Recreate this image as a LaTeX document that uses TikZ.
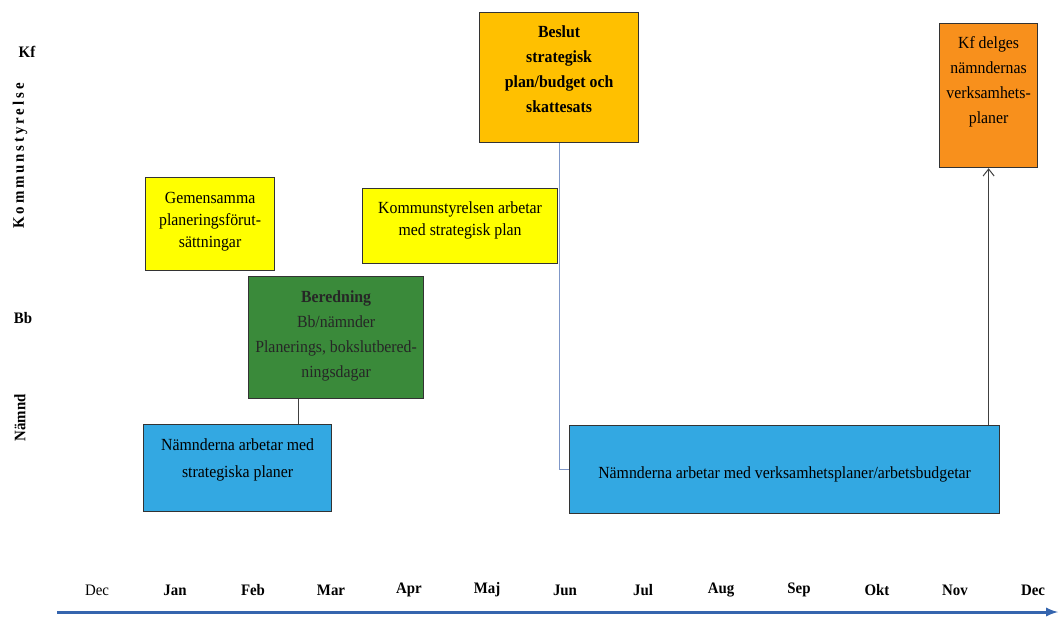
\documentclass[tikz,border=0pt]{standalone}
\usepackage{fontspec}
\setmainfont{Liberation Serif}[FakeStretch=0.93]
\usetikzlibrary{calc}
\usetikzlibrary{arrows.meta}
\tikzset{>=latex}
\definecolor{stryellow}{HTML}{FFFF00}
\definecolor{decisiongold}{HTML}{FFC000}
\definecolor{prepgreen}{HTML}{3A8A3A}
\definecolor{boardblue}{HTML}{33A8E2}
\definecolor{councilorange}{HTML}{F8901C}
\definecolor{axisblue}{HTML}{3565AE}
\definecolor{planline}{HTML}{7F97C8}
\tikzset{
  box/.style={draw=black!80, line width=1.2pt, anchor=north west, align=center,
    inner sep=0pt, font=\fontsize{17}{25}\selectfont},
  side/.style={font=\fontsize{16}{18}\selectfont\bfseries},
  month/.style={font=\fontsize{16}{18}\selectfont\bfseries},
  link/.style={black!75, line width=1pt},
}

\begin{document}
\begin{tikzpicture}[x=1pt, y=-1pt]
  \useasboundingbox (0,0) rectangle (1059,618);
  % row labels
  \node[side] (kf) at (27,52) {Kf};
  \node[side, rotate=90] (ks) at (20,156) {\addfontfeatures{LetterSpace=18}Kommunstyrelse};
  \node[side] (bb) at (23,318) {Bb};
  \node[side, rotate=90] (nd) at (20,418) {Nämnd};
  % boxes
  \node[box, fill=stryellow, minimum width=129pt, text height=70pt, text depth=23pt, font=\fontsize{17}{22}\selectfont] (common) at (145,177)
    {Gemensamma\\planeringsförut-\\sättningar};
  \node[box, fill=prepgreen, text=black!85, minimum width=175pt, text height=101pt, text depth=21pt] (prep) at (248,276)
    {\textbf{Beredning}\\Bb/nämnder\\Planerings, bokslutbered-\\ningsdagar};
  \node[box, fill=boardblue, minimum width=188pt, text height=53pt, text depth=34pt, font=\fontsize{17}{27}\selectfont] (nstrat) at (143,424)
    {Nämnderna arbetar med\\strategiska planer};
  \node[box, fill=stryellow, minimum width=195pt, text height=47pt, text depth=28pt, font=\fontsize{17}{22}\selectfont] (ksplan) at (362,188)
    {Kommunstyrelsen arbetar\\med strategisk plan};
  \node[box, fill=decisiongold, minimum width=159pt, text height=100pt, text depth=30pt, font=\fontsize{17}{25}\selectfont\bfseries] (beslut) at (479,12)
    {Beslut\\strategisk\\plan/budget och\\skattesats};
  \node[box, fill=boardblue, minimum width=430pt, text height=53pt, text depth=35pt] (nverk) at (569,425)
    {Nämnderna arbetar med verksamhetsplaner/arbetsbudgetar};
  \node[box, fill=councilorange, minimum width=98pt, text height=100pt, text depth=44pt] (kfdel) at (939,23)
    {Kf delges\\nämndernas\\verksamhets-\\planer};
  % connectors
  \coordinate (prepfoot) at ($(prep.south)+(-38,0)$);
  \draw[link] (prepfoot) -- (prepfoot |- nstrat.north);
  \draw[planline, line width=0.9pt] (beslut.south) |- (nverk.west);
  \draw[link, -{Straight Barb[length=7pt, width=11pt]}] (kfdel.south |- nverk.north) -- (kfdel.south);
  % time axis
  \node[month, font=\fontsize{16}{18}\selectfont] (m0) at (97,590) {Dec};
  \foreach \m [count=\i] in {Jan,Feb,Mar,Apr,Maj,Jun,Jul,Aug,Sep,Okt,Nov,Dec}
    \node[month] (m\i) at ({97+78*\i},590) {\m};
  \coordinate (axstart) at (57,612);
  \coordinate (axend) at (1058,612);
  \draw[axisblue, line width=3pt, ->] (axstart) -- (axend);
\end{tikzpicture}
\end{document}
